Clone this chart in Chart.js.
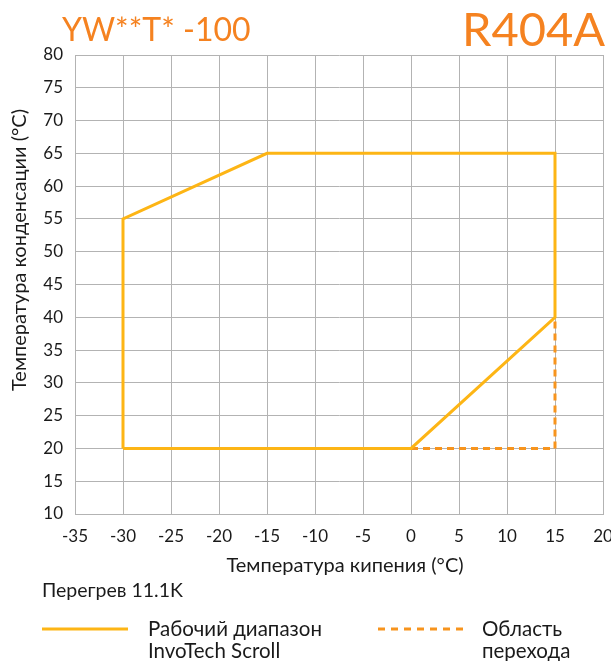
<!DOCTYPE html>
<html>
<head>
<meta charset="utf-8">
<script src="https://cdn.jsdelivr.net/npm/chart.js@4"></script>
<style>
  html, body { margin: 0; padding: 0; background: #fff; }
  #wrap { position: relative; width: 611px; height: 661px; }
</style>
</head>
<body>
<div id="wrap"><canvas id="envChart" width="611" height="661"></canvas></div>
<script>
  // operating envelope (evaporating temp, condensing temp)
  const envelopeX = [-30, -30, -15, 15, 15, 0, -30];
  const envelopeY = [20, 55, 65, 65, 40, 20, 20];
  // transition area (dashed)
  const transX = [0, 15, 15];
  const transY = [20, 20, 40];

  const xTicks = [-35, -30, -25, -20, -15, -10, -5, 0, 5, 10, 15, 20];
  const yTicks = [10, 15, 20, 25, 30, 35, 40, 45, 50, 55, 60, 65, 70, 75, 80];

  const FONT = 'Lato, "Open Sans", sans-serif';
  const solidColor = '#fdb515';
  const dashColor = '#f7941d';
  const titleColor = '#f58220';

  const toPts = (xs, ys) => xs.map((x, i) => ({ x: x, y: ys[i] }));

  // titles, axis titles and the legend below the chart
  const decor = {
    id: 'decor',
    afterDraw(chart) {
      const c = chart.ctx;
      c.save();
      c.fillStyle = titleColor;
      c.textBaseline = 'alphabetic';
      c.font = '32px ' + FONT;
      c.textAlign = 'left';
      c.fillText('YW**T* -100', 62, 41);
      c.font = '47px ' + FONT;
      c.textAlign = 'right';
      c.fillText('R404A', 605, 46);

      c.fillStyle = '#1a1a1a';
      c.font = '20px ' + FONT;
      c.textAlign = 'center';
      c.textBaseline = 'middle';
      c.fillText('Температура кипения (°C)', 345, 566);
      c.save();
      c.translate(20, 250);
      c.rotate(-Math.PI / 2);
      c.fillText('Температура конденсации (°C)', 0, 0);
      c.restore();

      c.textAlign = 'left';
      c.font = '19.5px ' + FONT;
      c.fillText('Перегрев 11.1K', 42, 591);
      c.font = '20.5px ' + FONT;
      c.fillText('Рабочий диапазон', 148, 629);
      c.fillText('InvoTech Scroll', 148, 651);
      c.fillText('Область', 482, 629);
      c.fillText('перехода', 482, 651);

      c.lineWidth = 3;
      c.strokeStyle = solidColor;
      c.beginPath(); c.moveTo(42, 629); c.lineTo(128, 629); c.stroke();
      c.strokeStyle = dashColor;
      c.setLineDash([7, 6]);
      c.beginPath(); c.moveTo(378, 629); c.lineTo(463, 629); c.stroke();
      c.restore();
    }
  };

  const ctx = document.getElementById('envChart').getContext('2d');
  const envChart = new Chart(ctx, {
    type: 'scatter',
    data: {
      datasets: [{
        label: 'Рабочий диапазон InvoTech Scroll',
        data: toPts(envelopeX, envelopeY),
        showLine: true,
        borderColor: solidColor,
        borderWidth: 3,
        pointRadius: 0,
        tension: 0
      }, {
        label: 'Область перехода',
        data: toPts(transX, transY),
        showLine: true,
        borderColor: dashColor,
        borderWidth: 3,
        borderDash: [7, 5],
        pointRadius: 0,
        tension: 0
      }]
    },
    options: {
      responsive: false,
      animation: false,
      layout: { padding: { left: 0, top: 55, right: 8, bottom: 0 } },
      plugins: {
        legend: { display: false },
        tooltip: { enabled: false }
      },
      scales: {
        x: {
          type: 'linear',
          min: -35,
          max: 20,
          afterBuildTicks: s => { s.ticks = xTicks.map(v => ({ value: v })); },
          afterFit: s => { s.height = 147; s.paddingLeft = 0; s.paddingRight = 0; },
          grid: { color: '#b3b3b3', lineWidth: 1, drawTicks: false },
          border: { color: '#b3b3b3' },
          ticks: { color: '#1a1a1a', font: { family: FONT, size: 17 }, padding: 12, maxRotation: 0 }
        },
        y: {
          type: 'linear',
          min: 10,
          max: 80,
          afterBuildTicks: s => { s.ticks = yTicks.map(v => ({ value: v })); },
          afterFit: s => { s.width = 75; s.paddingTop = 0; s.paddingBottom = 0; },
          grid: { color: '#b3b3b3', lineWidth: 1, drawTicks: false },
          border: { color: '#b3b3b3' },
          ticks: { color: '#1a1a1a', font: { family: FONT, size: 17 }, padding: 12 }
        }
      }
    },
    plugins: [decor]
  });
</script>
</body>
</html>
